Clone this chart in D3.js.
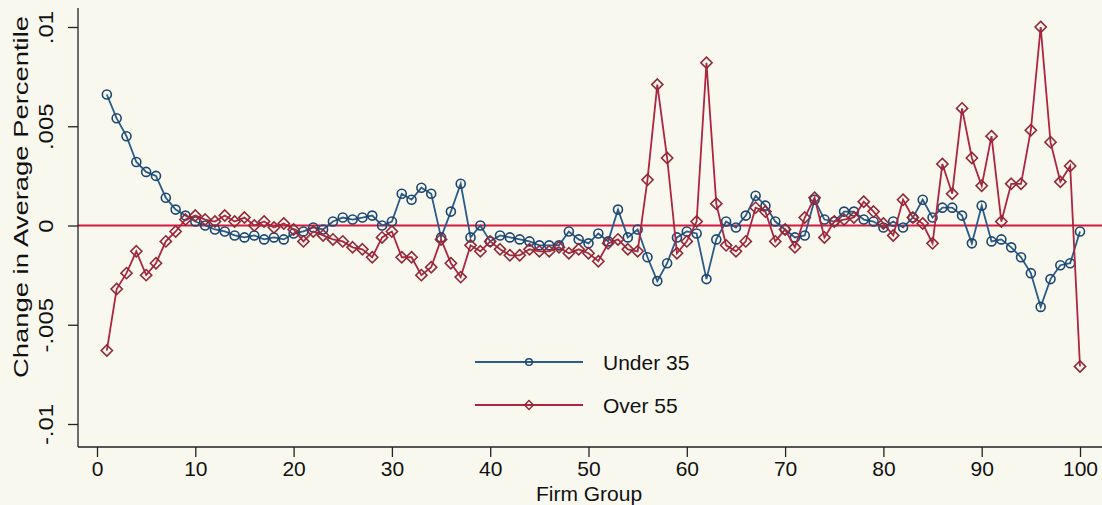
<!DOCTYPE html>
<html>
<head>
<meta charset="utf-8">
<script src="https://cdn.jsdelivr.net/npm/d3@7"></script>
<style>
  html, body { margin: 0; padding: 0; background: #f9f8ef; }
  svg { display: block; }
  text { font-family: "Liberation Sans", Arial, Helvetica, sans-serif; fill: #111; }
</style>
</head>
<body>
<svg id="chart" width="1102" height="505"></svg>
<script>
// Firm groups 1..100 on the horizontal axis
const firmGroups = d3.range(1, 101);

// Change in average percentile, workers under 35
const under35 = [
  0.0066, 0.0054, 0.0045, 0.0032, 0.0027, 0.0025, 0.0014, 0.0008, 0.0005, 0.0002,
  0.0000, -0.0002, -0.0003, -0.0005, -0.0006, -0.0005, -0.0007, -0.0006, -0.0007, -0.0004,
  -0.0003, -0.0001, -0.0002, 0.0002, 0.0004, 0.0003, 0.0004, 0.0005, 0.0000, 0.0002,
  0.0016, 0.0013, 0.0019, 0.0016, -0.0006, 0.0007, 0.0021, -0.0006, 0.0000, -0.0008,
  -0.0005, -0.0006, -0.0007, -0.0008, -0.0010, -0.0010, -0.0010, -0.0003, -0.0007, -0.0009,
  -0.0004, -0.0008, 0.0008, -0.0006, -0.0002, -0.0016, -0.0028, -0.0019, -0.0006, -0.0003,
  -0.0004, -0.0027, -0.0007, 0.0002, -0.0001, 0.0005, 0.0015, 0.0010, 0.0002, -0.0002,
  -0.0006, -0.0005, 0.0013, 0.0003, 0.0002, 0.0007, 0.0007, 0.0003, 0.0002, -0.0001,
  0.0002, -0.0001, 0.0004, 0.0013, 0.0004, 0.0009, 0.0009, 0.0005, -0.0009, 0.0010,
  -0.0008, -0.0007, -0.0011, -0.0016, -0.0024, -0.0041, -0.0027, -0.0020, -0.0019, -0.0003
];

// Change in average percentile, workers over 55
const over55 = [
  -0.0063, -0.0032, -0.0024, -0.0013, -0.0025, -0.0019, -0.0008, -0.0003, 0.0003, 0.0005,
  0.0003, 0.0002, 0.0005, 0.0002, 0.0004, 0.0000, 0.0002, -0.0001, 0.0001, -0.0002,
  -0.0008, -0.0003, -0.0005, -0.0007, -0.0008, -0.0011, -0.0012, -0.0016, -0.0006, -0.0003,
  -0.0016, -0.0016, -0.0025, -0.0021, -0.0007, -0.0019, -0.0026, -0.0010, -0.0013, -0.0008,
  -0.0012, -0.0015, -0.0015, -0.0012, -0.0013, -0.0013, -0.0011, -0.0014, -0.0012, -0.0014,
  -0.0018, -0.0009, -0.0007, -0.0012, -0.0013, 0.0023, 0.0071, 0.0034, -0.0014, -0.0008,
  0.0002, 0.0082, 0.0011, -0.0010, -0.0013, -0.0008, 0.0009, 0.0007, -0.0008, -0.0002,
  -0.0011, 0.0004, 0.0014, -0.0006, 0.0002, 0.0003, 0.0004, 0.0012, 0.0007, 0.0001,
  -0.0005, 0.0013, 0.0004, 0.0001, -0.0009, 0.0031, 0.0016, 0.0059, 0.0034, 0.0020,
  0.0045, 0.0002, 0.0021, 0.0021, 0.0048, 0.0100, 0.0042, 0.0022, 0.0030, -0.0071
];

const xTicks = [0, 10, 20, 30, 40, 50, 60, 70, 80, 90, 100];
const yTicks = [-0.01, -0.005, 0, 0.005, 0.01];
const yTickLabels = ["-.01", "-.005", "0", ".005", ".01"];
const seriesNames = ["Under 35", "Over 55"];

const svg = d3.select("#chart");

// plot region edges
const plotLeft = 78, plotRight = 1102, plotTop = 8, plotBottom = 447;

const x = d3.scaleLinear().domain([0, 100]).range([97, 1080]);
const y = d3.scaleLinear().domain([-0.01, 0.01]).range([424, 27]);

// zero reference line
svg.append("line")
  .attr("x1", plotLeft).attr("x2", plotRight)
  .attr("y1", y(0)).attr("y2", y(0))
  .attr("stroke", "#d8173f").attr("stroke-width", 2);

// axes
const yAxis = d3.axisLeft(y).tickValues(yTicks).tickSize(10)
  .tickFormat((d, i) => yTickLabels[i]);
const gy = svg.append("g").attr("transform", `translate(${plotLeft},0)`).call(yAxis);
gy.select(".domain").attr("d", `M0,${plotTop}V${plotBottom}`).attr("stroke", "#222").attr("stroke-width", 1.3);
gy.selectAll(".tick line").attr("stroke", "#222").attr("stroke-width", 1.3);
gy.selectAll(".tick text")
  .attr("x", 0).attr("y", 0).attr("dy", 0)
  .attr("transform", "translate(-25,0) rotate(-90) scale(1.14,1)")
  .attr("text-anchor", "middle")
  .style("font-size", "21px").style("font-family", "Liberation Sans, Arial, sans-serif").attr("fill", "#111");

const xAxis = d3.axisBottom(x).tickValues(xTicks).tickSize(10).tickFormat(d3.format("d"));
const gx = svg.append("g").attr("transform", `translate(0,${plotBottom})`).call(xAxis);
gx.select(".domain").attr("d", `M${plotLeft},0H${plotRight}`).attr("stroke", "#222").attr("stroke-width", 1.3);
gx.selectAll(".tick line").attr("stroke", "#222").attr("stroke-width", 1.3);
gx.selectAll(".tick text")
  .attr("y", 14).attr("dy", "0.71em")
  .style("font-size", "21px").style("font-family", "Liberation Sans, Arial, sans-serif").attr("fill", "#111");

// axis titles
svg.append("text")
  .attr("x", 589).attr("y", 501)
  .attr("text-anchor", "middle")
  .style("font-size", "21px")
  .text("Firm Group");
svg.append("text")
  .attr("transform", "translate(28,197) rotate(-90)")
  .attr("text-anchor", "middle")
  .attr("textLength", 362)
  .attr("lengthAdjust", "spacingAndGlyphs")
  .style("font-size", "21px")
  .text("Change in Average Percentile");

// series
const blueLine = "#2b5b88", blueMark = "#1d4670";
const redLine = "#ad2540", redMark = "#8f2b38";

const line = d3.line().x((d, i) => x(firmGroups[i])).y(d => y(d));

svg.append("path").datum(under35)
  .attr("d", line).attr("fill", "none")
  .attr("stroke", blueLine).attr("stroke-width", 1.8);
svg.append("g").selectAll("circle").data(under35).join("circle")
  .attr("cx", (d, i) => x(firmGroups[i])).attr("cy", d => y(d))
  .attr("r", 4.5).attr("fill", "none")
  .attr("stroke", blueMark).attr("stroke-width", 1.6);

svg.append("path").datum(over55)
  .attr("d", line).attr("fill", "none")
  .attr("stroke", redLine).attr("stroke-width", 1.8);
const diamond = d3.symbol().type(d3.symbolDiamond2).size(80);
svg.append("g").selectAll("path").data(over55).join("path")
  .attr("d", diamond)
  .attr("transform", (d, i) => `translate(${x(firmGroups[i])},${y(d)})`)
  .attr("fill", "none")
  .attr("stroke", redMark).attr("stroke-width", 1.6);

// legend
const legend = svg.append("g");
const legendRows = [
  { name: seriesNames[0], y: 362, lc: blueLine, mc: blueMark, shape: "circle" },
  { name: seriesNames[1], y: 405, lc: redLine, mc: redMark, shape: "diamond" }
];
legendRows.forEach(r => {
  legend.append("line").attr("x1", 475).attr("x2", 583)
    .attr("y1", r.y).attr("y2", r.y)
    .attr("stroke", r.lc).attr("stroke-width", 1.8);
  if (r.shape === "circle") {
    legend.append("circle").attr("cx", 529).attr("cy", r.y).attr("r", 3.3)
      .attr("fill", "none").attr("stroke", r.mc).attr("stroke-width", 1.5);
  } else {
    legend.append("path").attr("d", d3.symbol().type(d3.symbolDiamond2).size(50))
      .attr("transform", `translate(529,${r.y})`)
      .attr("fill", "none").attr("stroke", r.mc).attr("stroke-width", 1.5);
  }
  legend.append("text").attr("x", 603).attr("y", r.y).attr("dy", "0.36em")
    .style("font-size", "21px").text(r.name);
});
</script>
</body>
</html>
